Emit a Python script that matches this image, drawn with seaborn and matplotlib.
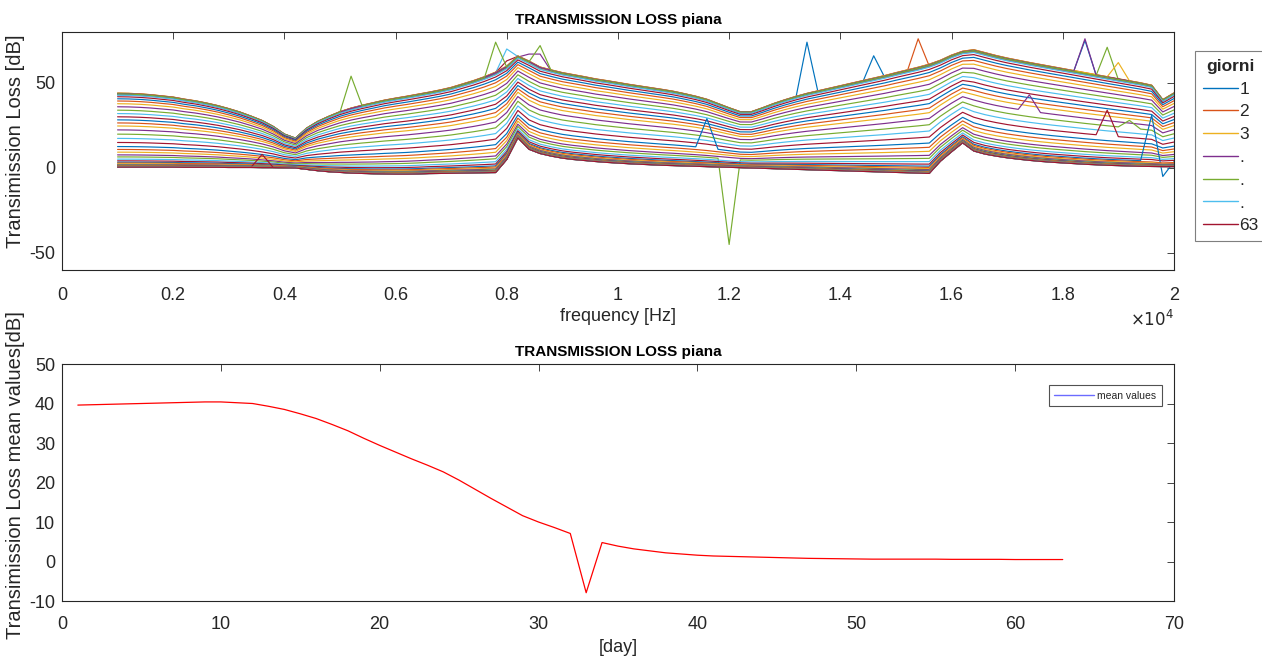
import numpy as np
import pandas as pd
import matplotlib
matplotlib.use("Agg")
import matplotlib.pyplot as plt
import seaborn as sns
from matplotlib.lines import Line2D

# Frequency grid of the measurements [Hz]
freq_hz = np.arange(1000, 20001, 200)

# Transmission loss of the undamaged panel (upper envelope) [dB]
tl_upper = [
    44.1, 44.0, 43.7, 43.2, 42.5, 41.8, 40.6, 39.6, 38.3, 36.8,
    35.0, 33.0, 30.6, 28.0, 24.5, 20.0, 17.6, 23.5, 27.5, 30.5,
    33.2, 35.3, 37.0, 38.5, 40.0, 41.2, 42.3, 43.5, 44.7, 46.0,
    47.5, 49.5, 51.5, 53.8, 56.5, 60.0, 66.0, 63.0, 59.5, 57.8,
    56.2, 55.0, 53.8, 52.5, 51.5, 50.4, 49.3, 48.3, 47.3, 46.3,
    45.2, 43.8, 42.3, 40.5, 38.0, 35.5, 33.2, 33.2, 35.5, 38.0,
    40.2, 42.2, 44.0, 45.5, 47.0, 48.5, 50.0, 51.5, 53.0, 54.5,
    56.2, 57.8, 59.4, 61.2, 63.5, 66.5, 68.8, 69.7, 68.0, 66.3,
    64.8, 63.5, 62.2, 61.0, 59.8, 58.6, 57.4, 56.2, 55.0, 53.8,
    52.6, 51.4, 50.2, 48.8, 40.3, 44.2,
]

# Transmission loss at the end of the campaign (lower envelope) [dB]
tl_lower = [
    0.5, 0.5, 0.5, 0.5, 0.5, 0.5, 0.4, 0.4, 0.4, 0.4,
    0.3, 0.3, 0.3, 0.2, 0.2, 0.1, 0.0, -0.8, -1.6, -2.2,
    -2.6, -3.0, -3.2, -3.4, -3.5, -3.6, -3.6, -3.5, -3.3, -3.2,
    -3.1, -3.0, -2.9, -2.8, -2.7, 5.0, 17.8, 11.0, 8.5, 7.0,
    5.8, 5.0, 4.4, 3.8, 3.3, 2.9, 2.5, 2.2, 1.9, 1.6,
    1.4, 1.2, 1.0, 0.8, 0.6, 0.4, 0.2, 0.0, -0.2, -0.4,
    -0.6, -0.8, -1.0, -1.2, -1.4, -1.6, -1.8, -2.0, -2.2, -2.4,
    -2.6, -2.8, -3.0, -3.2, 4.0, 9.5, 14.8, 10.0, 8.2, 7.0,
    6.0, 5.2, 4.5, 3.9, 3.4, 3.0, 2.6, 2.2, 1.9, 1.6,
    1.4, 1.2, 1.0, 0.9, 0.8, 0.8,
]

# Transmission loss of each day at 1 kHz [dB]
tl_day_1khz = [
    43.1, 43.2, 43.3, 43.4, 43.6, 43.7, 43.8, 43.9, 44.0, 44.0,
    43.8, 43.6, 42.8, 41.9, 40.7, 39.4, 37.8, 36.0, 34.0, 32.0,
    30.1, 28.3, 26.5, 24.7, 22.4, 19.9, 17.4, 15.0, 12.6, 10.9,
    9.3, 7.7, 6.5, 5.2, 4.2, 3.4, 2.9, 2.4, 2.0, 1.7,
    1.5, 1.4, 1.3, 1.2, 1.0, 0.9, 0.9, 0.8, 0.8, 0.7,
    0.7, 0.7, 0.7, 0.7, 0.7, 0.6, 0.6, 0.6, 0.6, 0.5,
    0.5, 0.5, 0.5,
]

# Isolated anomalous readings: (day, frequency [Hz], TL [dB])
outliers = [
    (12, 5200, 54), (12, 7800, 74), (12, 8600, 72),
    (6, 8000, 70), (7, 8000, 63), (4, 8400, 67), (4, 8600, 67),
    (56, 3600, 8), (33, 12000, -45), (29, 11600, 29),
    (1, 13400, 74), (1, 14600, 66), (2, 15400, 76),
    (11, 18400, 76), (8, 18400, 75), (5, 18800, 71), (10, 19000, 62),
    (25, 17400, 43), (28, 18800, 34), (26, 19200, 28),
    (36, 19600, 31), (36, 19800, -5),
]

# Mean transmission loss per day [dB]
mean_tl = [
    39.6, 39.7, 39.8, 39.9, 40.0, 40.1, 40.2, 40.3, 40.4, 40.4,
    40.2, 40.0, 39.3, 38.5, 37.4, 36.2, 34.7, 33.1, 31.2, 29.4,
    27.7, 26.0, 24.4, 22.7, 20.6, 18.3, 16.0, 13.8, 11.6, 10.0,
    8.6, 7.1, -7.9, 4.8, 3.9, 3.2, 2.7, 2.2, 1.9, 1.6,
    1.4, 1.3, 1.2, 1.1, 1.0, 0.9, 0.8, 0.75, 0.7, 0.65,
    0.6, 0.6, 0.6, 0.6, 0.6, 0.55, 0.55, 0.55, 0.55, 0.5,
    0.5, 0.5, 0.5,
]

days = np.arange(1, len(mean_tl) + 1)
legend_labels = ["1", "2", "3", ".", ".", ".", "63"]

# MATLAB default colour order
line_colors = ["#0072BD", "#D95319", "#EDB120", "#7E2F8E",
               "#77AC30", "#4DBEEE", "#A2142F"]

# ---- build the daily spectra -------------------------------------------
upper = np.asarray(tl_upper)
lower = np.asarray(tl_lower)
curves = {}
for d, lev in zip(days, tl_day_1khz):
    w = (lev - lower[0]) / (upper[0] - lower[0])
    curves[d] = lower + w * (upper - lower)
for d, f, v in outliers:
    curves[d][np.searchsorted(freq_hz, f)] = v

df = pd.DataFrame({
    "day": np.repeat(days, len(freq_hz)),
    "freq": np.tile(freq_hz, len(days)),
    "tl": np.concatenate([curves[d] for d in days]),
})
palette = {d: line_colors[(d - 1) % 7] for d in days}

# ---- style ---------------------------------------------------------------
sns.set_theme(style="white")
plt.rcParams["font.family"] = ["Liberation Sans", "DejaVu Sans"]
ink = "#262626"
plt.rcParams.update({
    "axes.unicode_minus": False,
    "axes.edgecolor": ink, "axes.linewidth": 0.8,
    "xtick.color": ink, "ytick.color": ink,
    "xtick.direction": "in", "ytick.direction": "in",
    "xtick.top": True, "ytick.right": True,
    "xtick.major.size": 5, "ytick.major.size": 5,
    "xtick.major.width": 0.6, "ytick.major.width": 0.6,
    "xtick.major.pad": 10, "ytick.major.pad": 5,
    "xtick.labelsize": 13, "ytick.labelsize": 13,
})

fig = plt.figure(figsize=(12.62, 6.58), dpi=100)
ax1 = fig.add_axes([0.0491, 0.5897, 0.8811, 0.3617])
ax2 = fig.add_axes([0.0491, 0.0866, 0.8811, 0.3602])

# ---- top: spectra per day ------------------------------------------------
sns.lineplot(data=df, x="freq", y="tl", hue="day", palette=palette,
             estimator=None, sort=False, legend=False, linewidth=0.85, ax=ax1)
ax1.set_xlim(0, 20000)
ax1.set_ylim(-60, 80)
ax1.set_xticks(np.arange(0, 20001, 2000))
ax1.set_xticklabels(["0", "0.2", "0.4", "0.6", "0.8", "1", "1.2", "1.4",
                     "1.6", "1.8", "2"])
ax1.set_yticks([-50, 0, 50])
ax1.tick_params(axis="x", pad=12)
ax1.set_xlabel("frequency [Hz]", fontsize=13, color=ink, labelpad=3)
ax1.set_ylabel("Transimission Loss [dB]", fontsize=14.5, color=ink)
ax1.yaxis.set_label_coords(-0.0335, 0.54)
ax1.set_title("TRANSMISSION LOSS piana", fontsize=11, fontweight="bold",
              color="black", pad=6)
ax1.text(1.0, -0.205, r"$\times10^{4}$", transform=ax1.transAxes,
         ha="right", va="center", fontsize=12, color=ink)

handles = [Line2D([], [], color=line_colors[i], lw=1.0) for i in range(7)]
leg = fig.legend(handles, legend_labels, title="giorni",
                 loc="upper left", bbox_to_anchor=(1195 / 1262, 1 - 51 / 658),
                 fontsize=12.5, title_fontproperties={"weight": "bold", "size": 12.5},
                 frameon=True, fancybox=False, edgecolor="#7f7f7f",
                 facecolor="white", framealpha=1.0,
                 handlelength=2.0, handletextpad=0.12, labelspacing=0.44,
                 borderpad=0.45, borderaxespad=0)
leg.get_frame().set_linewidth(0.8)
for t in leg.get_texts():
    t.set_color(ink)

# ---- bottom: daily mean --------------------------------------------------
sns.lineplot(x=days, y=mean_tl, color="red", linewidth=0.9, ax=ax2)
ax2.set_xlim(0, 70)
ax2.set_ylim(-10, 50)
ax2.set_xticks(np.arange(0, 71, 10))
ax2.set_yticks(np.arange(-10, 51, 10))
ax2.tick_params(axis="x", pad=11)
ax2.set_xlabel("[day]", fontsize=13, color=ink, labelpad=4)
ax2.set_ylabel("Transimission Loss mean values[dB]", fontsize=14.5, color=ink)
ax2.yaxis.set_label_coords(-0.0335, 0.53)
ax2.set_title("TRANSMISSION LOSS piana", fontsize=11, fontweight="bold",
              color="black", pad=6)
mleg = ax2.legend([Line2D([], [], color="#6b6bff", lw=1.0)], ["mean values"],
                  loc="upper right", bbox_to_anchor=(1162 / 1262, 1 - 385 / 658),
                  bbox_transform=fig.transFigure,
                  fontsize=7.5, frameon=True, fancybox=False,
                  edgecolor=ink, handlelength=3.8, handletextpad=0.3,
                  borderpad=0.55, borderaxespad=0)
mleg.get_frame().set_linewidth(0.8)

# separator under the legend title
fig.canvas.draw()
renderer = fig.canvas.get_renderer()
frame_bb = leg.get_frame().get_window_extent(renderer)
title_bb = leg.get_title().get_window_extent(renderer)
ysep = (title_bb.y0 - 3) / fig.bbox.height
fig.add_artist(Line2D([frame_bb.x0 / fig.bbox.width, frame_bb.x1 / fig.bbox.width],
                      [ysep, ysep], color="#7f7f7f", lw=0.8,
                      transform=fig.transFigure))

fig.savefig("out.png", dpi=100)
